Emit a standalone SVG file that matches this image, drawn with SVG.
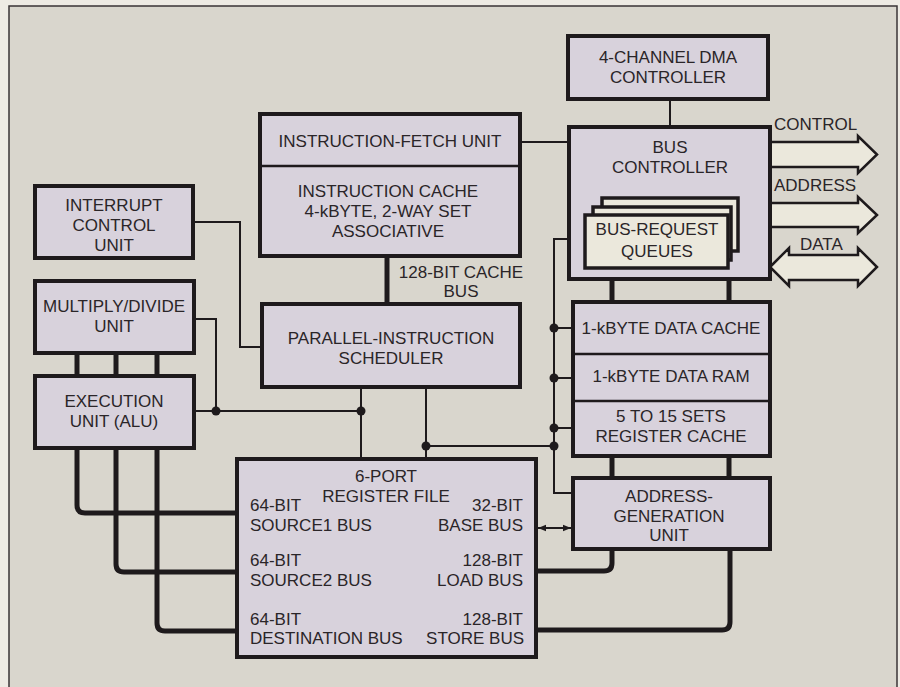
<svg xmlns="http://www.w3.org/2000/svg" width="900" height="687" viewBox="0 0 900 687">
<defs>
<style>
.box{fill:#d8d2dc;stroke:#1e1a1c;stroke-width:4}
.q{fill:#ebe8dc;stroke:#1e1a1c;stroke-width:3.5}
.div{stroke:#1e1a1c;stroke-width:2.5;fill:none}
.thin{stroke:#1e1a1c;stroke-width:2;fill:none}
.thick{stroke:#1e1a1c;stroke-width:5;fill:none}
.big{fill:#ebe8dc;stroke:#1e1a1c;stroke-width:2.5;stroke-linejoin:miter}
.dot{fill:#1e1a1c}
text{font-family:"Liberation Sans",Arial,sans-serif;font-size:17px;fill:#2a2528}
.m{text-anchor:middle}
.e{text-anchor:end}
</style>
<marker id="ah" viewBox="0 0 10 10" refX="10" refY="5" markerWidth="5" markerHeight="5" orient="auto-start-reverse" markerUnits="userSpaceOnUse">
<path d="M0,1 L10,5 L0,9 Z" fill="#1e1a1c"/>
</marker>
<marker id="ah2" viewBox="0 0 10 10" refX="10" refY="5" markerWidth="9" markerHeight="8" orient="auto-start-reverse" markerUnits="userSpaceOnUse">
<path d="M0,1 L10,5 L0,9 Z" fill="#1e1a1c"/>
</marker>
</defs>
<rect x="0" y="0" width="900" height="687" fill="#eeebe4"/>
<rect x="9" y="6" width="888" height="700" fill="#d9d6cd" stroke="#3a3536" stroke-width="1.5"/>

<g id="connectors">
<path class="thin" d="M520,142 H569"/>
<path class="thin" d="M670,99 V127"/>
<path class="thin" d="M193,222 H240 V347 H262"/>
<path class="thin" d="M194,319 H216 V411"/>
<path class="thin" d="M194,411 H361"/>
<path class="thin" d="M361,387 V459"/>
<path class="thin" d="M426,387 V459"/>
<path class="thin" d="M426,446 H554"/>
<path class="thin" d="M569,239 H554 V493 H573"/>
<path class="thin" d="M554,328 H573 M554,378 H573 M554,428 H573"/>
<path class="thin" d="M538,528 H571" marker-start="url(#ah2)" marker-end="url(#ah2)"/>
<circle class="dot" cx="216" cy="411" r="4.5"/>
<circle class="dot" cx="361" cy="411" r="4.5"/>
<circle class="dot" cx="426" cy="446" r="4.5"/>
<circle class="dot" cx="554" cy="328" r="4.5"/>
<circle class="dot" cx="554" cy="378" r="4.5"/>
<circle class="dot" cx="554" cy="428" r="4.5"/>
<circle class="dot" cx="554" cy="446" r="4.5"/>
<path class="thick" d="M387,256 V304"/>
<path class="thick" d="M77,353 V376 M116,353 V376 M157,353 V376"/>
<path class="thick" d="M77,448 V505 Q77,513 85,513 H237"/>
<path class="thick" d="M116,448 V564 Q116,572 124,572 H237"/>
<path class="thick" d="M157,448 V623 Q157,631 165,631 H237"/>
<path class="thick" d="M612,279 V302 M729,279 V302"/>
<path class="thick" d="M612,456 V478 M729,456 V478"/>
<path class="thick" d="M536,571 H604 Q612,571 612,563 V549"/>
<path class="thick" d="M536,630 H722 Q730,630 730,622 V549"/>
<path class="big" d="M770,142 H858 V136 L877,154.5 L858,173 V167 H770 Z"/>
<path class="big" d="M770,203 H858 V197 L877,215 L858,233 V227 H770 Z"/>
<path class="big" d="M770,267 L789,248 V255 H858 V248 L877,267 L858,286 V280 H789 V286 Z"/>
<text x="774" y="130">CONTROL</text>
<text x="774" y="191">ADDRESS</text>
<text x="800" y="250">DATA</text>
<text class="m" x="461" y="278">128-BIT CACHE</text>
<text class="m" x="461" y="297">BUS</text>
</g>

<g id="interrupt-control-unit">
<rect class="box" x="35" y="186" width="158" height="72"/>
<text class="m" x="114" y="211">INTERRUPT</text>
<text class="m" x="114" y="231">CONTROL</text>
<text class="m" x="114" y="251">UNIT</text>
</g>
<g id="multiply-divide-unit">
<rect class="box" x="35" y="281" width="159" height="72"/>
<text class="m" x="114" y="312">MULTIPLY/DIVIDE</text>
<text class="m" x="114" y="332">UNIT</text>
</g>
<g id="execution-unit">
<rect class="box" x="35" y="376" width="159" height="72"/>
<text class="m" x="114" y="407">EXECUTION</text>
<text class="m" x="114" y="427">UNIT (ALU)</text>
</g>
<g id="instruction-fetch-cache">
<rect class="box" x="260" y="114" width="260" height="142"/>
<path class="div" d="M260,166 H520"/>
<text class="m" x="390" y="147">INSTRUCTION-FETCH UNIT</text>
<text class="m" x="388" y="197">INSTRUCTION CACHE</text>
<text class="m" x="388" y="217">4-kBYTE, 2-WAY SET</text>
<text class="m" x="388" y="237">ASSOCIATIVE</text>
</g>
<g id="parallel-instruction-scheduler">
<rect class="box" x="262" y="304" width="258" height="83"/>
<text class="m" x="391" y="344">PARALLEL-INSTRUCTION</text>
<text class="m" x="391" y="364">SCHEDULER</text>
</g>
<g id="register-file">
<rect class="box" x="237" y="459" width="299" height="198"/>
<text class="m" x="386" y="482">6-PORT</text>
<text class="m" x="386" y="502">REGISTER FILE</text>
<text x="250" y="511">64-BIT</text>
<text x="250" y="531">SOURCE1 BUS</text>
<text x="250" y="566">64-BIT</text>
<text x="250" y="586">SOURCE2 BUS</text>
<text x="250" y="625">64-BIT</text>
<text x="250" y="644">DESTINATION BUS</text>
<text class="e" x="523" y="511">32-BIT</text>
<text class="e" x="523" y="531">BASE BUS</text>
<text class="e" x="523" y="566">128-BIT</text>
<text class="e" x="523" y="586">LOAD BUS</text>
<text class="e" x="523" y="625">128-BIT</text>
<text class="e" x="524" y="644">STORE BUS</text>
</g>
<g id="dma-controller">
<rect class="box" x="568" y="36" width="200" height="63"/>
<text class="m" x="668" y="63">4-CHANNEL DMA</text>
<text class="m" x="668" y="83">CONTROLLER</text>
</g>
<g id="bus-controller">
<rect class="box" x="569" y="127" width="201" height="152"/>
<text class="m" x="670" y="153">BUS</text>
<text class="m" x="670" y="173">CONTROLLER</text>
</g>
<g id="bus-request-queues">
<rect class="q" x="602" y="198" width="136" height="53"/>
<rect class="q" x="593" y="207" width="138" height="53"/>
<rect class="q" x="585" y="215" width="143" height="53"/>
<text class="m" x="657" y="235">BUS-REQUEST</text>
<text class="m" x="657" y="257">QUEUES</text>
</g>
<g id="data-cache-ram-register-cache">
<rect class="box" x="573" y="302" width="197" height="154"/>
<path class="div" d="M573,354 H770 M573,401 H770"/>
<text class="m" x="671" y="334">1-kBYTE DATA CACHE</text>
<text class="m" x="671" y="382">1-kBYTE DATA RAM</text>
<text class="m" x="671" y="422">5 TO 15 SETS</text>
<text class="m" x="671" y="442">REGISTER CACHE</text>
</g>
<g id="address-generation-unit">
<rect class="box" x="573" y="478" width="197" height="71"/>
<text class="m" x="669" y="502">ADDRESS-</text>
<text class="m" x="669" y="522">GENERATION</text>
<text class="m" x="669" y="541">UNIT</text>
</g>
</svg>
